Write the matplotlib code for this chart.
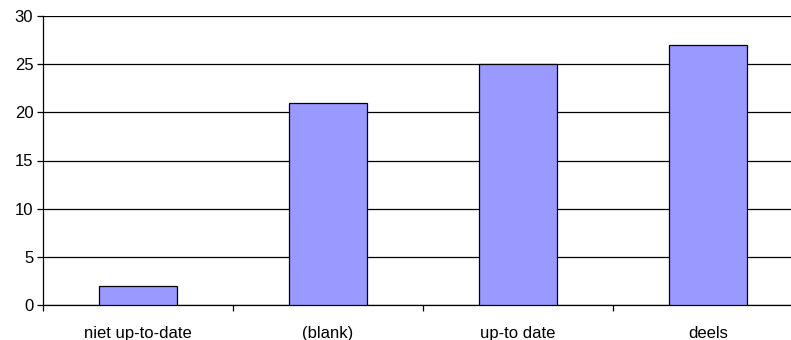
import matplotlib.pyplot as plt
import numpy as np

plt.rcParams['font.family'] = ['Liberation Sans', 'DejaVu Sans']

categories = ["niet up-to-date", "(blank)", "up-to date", "deels"]
counts = [2, 21, 25, 27]

W, H, DPI = 791, 340, 100
fig = plt.figure(figsize=(W / DPI, H / DPI), dpi=DPI)

# plot area runs a bit past the right edge of the figure
left, right, top, bottom = 43, 803, 16, 305
ax = fig.add_axes([left / W, 1 - bottom / H, (right - left) / W, (bottom - top) / H])

x = np.arange(len(categories))
ax.bar(x, counts, width=0.41, color="#9999FF", edgecolor="black", linewidth=0.9, zorder=3)

ax.set_xlim(-0.5, len(categories) - 0.5)
ax.set_ylim(0, 30)
ax.set_yticks(np.arange(0, 31, 5))
ax.yaxis.grid(True, color="black", linewidth=0.9, zorder=0)

ax.set_xticks(x)
ax.set_xticklabels(categories)
ax.set_xticks(np.arange(-0.5, len(categories)), minor=True)
ax.tick_params(axis="x", which="major", length=0, pad=15, labelsize=12)
ax.tick_params(axis="x", which="minor", length=4, width=0.9, direction="out")
ax.tick_params(axis="y", length=4, width=0.9, pad=3, labelsize=12)

for side in ["top", "right"]:
    ax.spines[side].set_visible(False)
for side in ["left", "bottom"]:
    ax.spines[side].set_linewidth(0.9)

fig.savefig("out.png", dpi=DPI)
